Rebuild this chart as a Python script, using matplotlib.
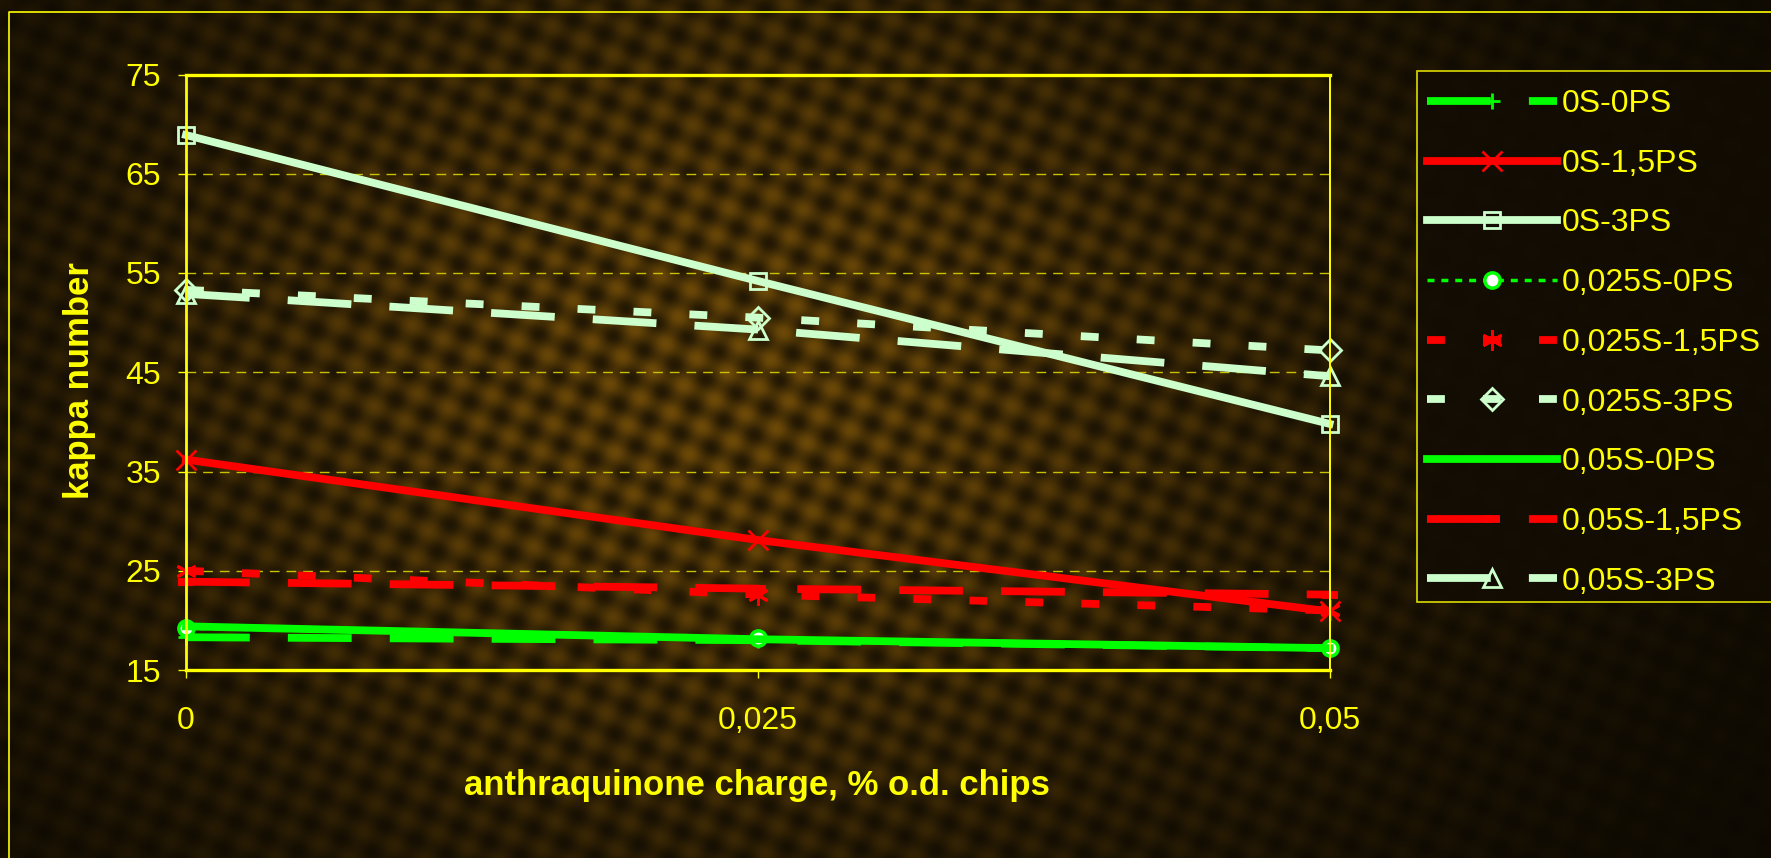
import numpy as np
import matplotlib
matplotlib.use("Agg")
import matplotlib.pyplot as plt
from matplotlib.lines import Line2D
from matplotlib.patches import Rectangle

plt.rcParams['font.family'] = ['Liberation Sans', 'DejaVu Sans']

# data
aq_charge = [0, 0.025, 0.05]
x_labels = ['0', '0,025', '0,05']
s0_0ps = [18.3, 18.0, 17.2]
s0_15ps = [36.2, 28.1, 20.9]
s0_3ps = [68.9, 54.2, 39.8]
s025_0ps = [19.2, 18.2, 17.2]
s025_15ps = [25.0, 22.6, 21.0]
s025_3ps = [53.3, 50.5, 47.2]
s05_0ps = [19.4, 18.1, 17.2]
s05_15ps = [23.9, 23.2, 22.6]
s05_3ps = [52.9, 49.3, 44.6]
y_ticks = [15, 25, 35, 45, 55, 65, 75]

W, H = 1771, 858
YEL = '#ffff00'
GRN = '#00ff00'
RED = '#ff0000'
LGR = '#ccffcc'

fig = plt.figure(figsize=(W / 100, H / 100), dpi=100)

# background: dark brown radial glow with a blobby texture
bg = fig.add_axes([0, 0, 1, 1])
yy, xx = np.mgrid[0:H, 0:W].astype(float)
glow = np.exp(-(((xx - 720) / 650) ** 2 + ((yy - 380) / 520) ** 2))
ang = np.deg2rad(25)
u = xx * np.cos(ang) + yy * np.sin(ang)
v = -xx * np.sin(ang) + yy * np.cos(ang)
tex = (np.cos(2 * np.pi * u / 34) + np.cos(2 * np.pi * v / 30)) / 2
tex = 0.62 + 0.38 * tex
dark = np.array([0.05, 0.035, 0.008])
bright = np.array([0.43, 0.29, 0.03])
img = dark + (glow * tex)[..., None] * (bright - dark)
bg.imshow(np.clip(img, 0, 1), aspect='auto', extent=[0, W, H, 0])
bg.axis('off')

L, R, T, B = 186, 1329.5, 74.5, 670
ax = fig.add_axes([L / W, 1 - B / H, (R - L) / W, (B - T) / H])
ax.patch.set_visible(False)

lw = 5.6
ax.plot(aq_charge, s0_0ps, color=GRN, lw=lw, dashes=(8.2, 4.9), marker='+',
        ms=12, mew=2, clip_on=False, label='0S-0PS')
ax.plot(aq_charge, s0_15ps, color=RED, lw=lw, marker='x', ms=14, mew=2,
        clip_on=False, label='0S-1,5PS')
ax.plot(aq_charge, s0_3ps, color=LGR, lw=lw, marker='s', ms=12, mew=2,
        mfc='none', mec=LGR, clip_on=False, label='0S-3PS')
ax.plot(aq_charge, s025_0ps, color=GRN, lw=2.5, dashes=(2, 2), marker='o',
        ms=11, mew=2.5, mfc='white', mec=GRN, clip_on=False, label='0,025S-0PS')
ax.plot(aq_charge, s025_15ps, color=RED, lw=lw, dashes=(2.3, 4.9),
        marker=(6, 2, 0), ms=15, mew=2, clip_on=False, label='0,025S-1,5PS')
ax.plot(aq_charge, s025_3ps, color=LGR, lw=lw, dashes=(2.3, 4.9), marker='D',
        ms=11, mew=2, mfc='none', mec=LGR, clip_on=False, label='0,025S-3PS')
ax.plot(aq_charge, s05_0ps, color=GRN, lw=lw, clip_on=False, label='0,05S-0PS')
ax.plot(aq_charge, s05_15ps, color=RED, lw=lw, dashes=(8.2, 4.9),
        marker='_', ms=12, mew=lw, clip_on=False, label='0,05S-1,5PS')
ax.plot(aq_charge, s05_3ps, color=LGR, lw=lw, dashes=(8.2, 4.9), marker='^',
        ms=13, mew=2, mfc='none', mec=LGR, clip_on=False, label='0,05S-3PS')

ax.set_xlim(0, 0.05)
ax.set_ylim(15, 75)
ax.set_xticks(aq_charge)
ax.set_xticklabels(x_labels)
ax.set_yticks(y_ticks)
ax.yaxis.grid(True, color='#c8c000', lw=1, linestyle=(0, (7, 5)))
ax.set_axisbelow(True)
ax.tick_params(axis='both', colors=YEL, labelsize=23, length=6, width=1,
               direction='out')
ax.tick_params(axis='x', pad=20)
ax.tick_params(axis='y', pad=12)
for side, w in [('top', 2.4), ('bottom', 2.4), ('left', 2.0), ('right', 1.4)]:
    ax.spines[side].set_color(YEL)
    ax.spines[side].set_linewidth(w)

fig.text(80 / W, 1 - 381 / H, 'kappa number', rotation=90, ha='center',
         va='center', color=YEL, fontsize=25, fontweight='bold')
fig.text(757 / W, 1 - 785 / H, 'anthraquinone charge, % o.d. chips',
         ha='center', va='center', color=YEL, fontsize=25, fontweight='bold')

# legend box and legend
fig.patches.append(Rectangle((1417 / W, 1 - 602 / H), 400 / W, 531 / H,
                             transform=fig.transFigure, fc='#120c03', ec=YEL,
                             lw=1.2, alpha=0.85, zorder=1))
leg = fig.legend(loc='upper left', bbox_to_anchor=(1427 / W, 1 - 89 / H),
                 frameon=False, fontsize=23, handlelength=4.07,
                 handletextpad=0.16, labelspacing=0.93, borderpad=0,
                 borderaxespad=0, numpoints=1)
for t in leg.get_texts():
    t.set_color(YEL)

# outer chart border
fig.add_artist(Line2D([9 / W, 9 / W, 1], [0, 1 - 12 / H, 1 - 12 / H],
                      transform=fig.transFigure, color=YEL, lw=1.2))

fig.savefig('out.png', dpi=100)
